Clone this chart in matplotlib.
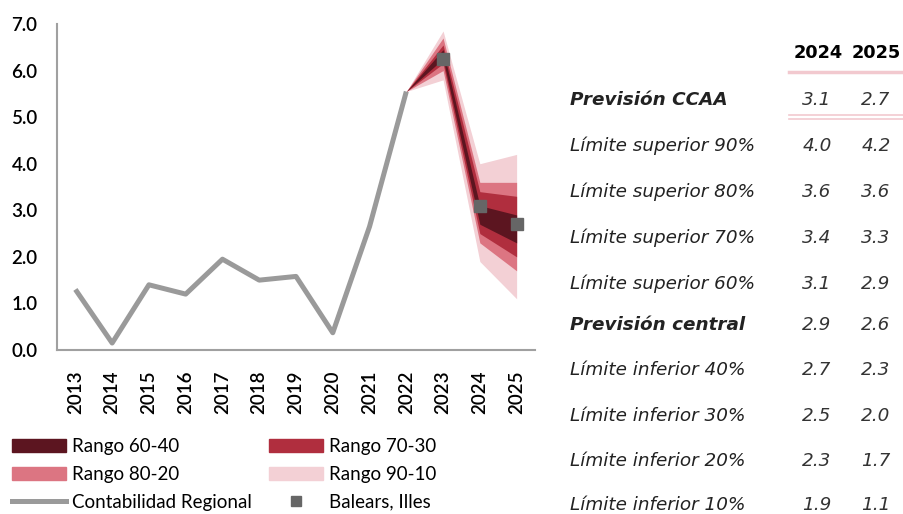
import matplotlib.pyplot as plt
from matplotlib.patches import Patch
from matplotlib.lines import Line2D

# historical series (Contabilidad Regional)
years = [2013, 2014, 2015, 2016, 2017, 2018, 2019, 2020, 2021, 2022, 2023, 2024, 2025]
hist = [1.3, 0.15, 1.4, 1.2, 1.95, 1.5, 1.58, 0.37, 2.65, 5.55]

# fan chart percentiles, years 2022-2025
fan_years = [2022, 2023, 2024, 2025]
p90 = [5.55, 6.85, 4.0, 4.2]
p80 = [5.55, 6.70, 3.6, 3.6]
p70 = [5.55, 6.55, 3.4, 3.3]
p60 = [5.55, 6.45, 3.1, 2.9]
central = [5.55, 6.35, 2.9, 2.6]
p40 = [5.55, 6.25, 2.7, 2.3]
p30 = [5.55, 6.15, 2.5, 2.0]
p20 = [5.55, 6.00, 2.3, 1.7]
p10 = [5.55, 5.80, 1.9, 1.1]

# regional forecast (Balears, Illes)
ccaa_years = [2023, 2024, 2025]
ccaa = [6.25, 3.1, 2.7]

c_6040 = '#5c1520'
c_7030 = '#b02e3e'
c_8020 = '#dc7582'
c_9010 = '#f3d0d5'
grey = '#9a9a9a'

W, H = 904, 514
fig = plt.figure(figsize=(W / 100, H / 100), dpi=100)
ax = fig.add_axes([57 / W, 1 - 350 / H, (535 - 57) / W, (350 - 24) / H])

pos = {y: i for i, y in enumerate(years)}
fx = [pos[y] for y in fan_years]

ax.fill_between(fx, p10, p90, color=c_9010, lw=0, zorder=1)
ax.fill_between(fx, p20, p80, color=c_8020, lw=0, zorder=2)
ax.fill_between(fx, p30, p70, color=c_7030, lw=0, zorder=3)
ax.fill_between(fx, p40, p60, color=c_6040, lw=0, zorder=4)

ax.plot(range(len(hist)), hist, color=grey, lw=3.6, solid_capstyle='butt', zorder=5)
ax.plot([pos[y] for y in ccaa_years], ccaa, ls='none', marker='s', ms=8,
        color='#666666', zorder=6)

ax.set_xlim(-0.5, len(years) - 0.5)
ax.set_ylim(0, 7)
ax.set_yticks(range(8))
ax.set_yticklabels(['%.1f' % v for v in range(8)])
ax.set_xticks(range(len(years)))
ax.set_xticklabels([str(y) for y in years], rotation=90)
ax.tick_params(length=0, labelsize=13.5)
ax.tick_params(axis='y', pad=14)
ax.tick_params(axis='x', pad=15)
for lab in ax.get_xticklabels() + ax.get_yticklabels():
    lab.set_fontfamily('Lato')
    lab.set_fontweight('semibold')

for s in ['top', 'right']:
    ax.spines[s].set_visible(False)
for s in ['left', 'bottom']:
    ax.spines[s].set_color('#a0a0a0')
    ax.spines[s].set_linewidth(1.5)

col1 = [
    Patch(color=c_6040, label='Rango 60-40'),
    Patch(color=c_8020, label='Rango 80-20'),
    Line2D([], [], color=grey, lw=3.6, label='Contabilidad Regional'),
]
col2 = [
    Patch(color=c_7030, label='Rango 70-30'),
    Patch(color=c_9010, label='Rango 90-10'),
    Line2D([], [], ls='none', marker='s', ms=7, color='#666666', label='Balears, Illes'),
]
leg_kw = dict(loc='upper left', frameon=False, prop={'family': 'Lato', 'size': 13.5},
              handlelength=2.9, handleheight=0.7, handletextpad=0.3,
              labelspacing=0.58, borderaxespad=0, borderpad=0)
fig.legend(handles=col1, bbox_to_anchor=(12 / W, 1 - 438 / H), **leg_kw)
fig.legend(handles=col2, bbox_to_anchor=(269 / W, 1 - 438 / H), **leg_kw)

# table on the right
def fx_(x):
    return x / W

def fy_(y):
    return 1 - y / H

tfont = 'DejaVu Sans'
fig.text(fx_(818), fy_(53), '2024', ha='center', va='center', fontsize=12.8,
         fontweight='bold', family='DejaVu Sans')
fig.text(fx_(876), fy_(53), '2025', ha='center', va='center', fontsize=12.8,
         fontweight='bold', family='DejaVu Sans')

rows = [
    ('Previsión CCAA', ccaa[1], ccaa[2], True),
    ('Límite superior 90%', p90[2], p90[3], False),
    ('Límite superior 80%', p80[2], p80[3], False),
    ('Límite superior 70%', p70[2], p70[3], False),
    ('Límite superior 60%', p60[2], p60[3], False),
    ('Previsión central', central[2], central[3], True),
    ('Límite inferior 40%', p40[2], p40[3], False),
    ('Límite inferior 30%', p30[2], p30[3], False),
    ('Límite inferior 20%', p20[2], p20[3], False),
    ('Límite inferior 10%', p10[2], p10[3], False),
]
row_y = [100, 146, 192, 238, 284, 325, 370, 416, 461, 505]
for (lab, v24, v25, bold), y in zip(rows, row_y):
    fig.text(fx_(570), fy_(y), lab, ha='left', va='center', fontsize=13.2,
             style='italic', fontweight='bold' if bold else 'normal',
             family=tfont, color='#222222')
    fig.text(fx_(817), fy_(y), '%.1f' % v24, ha='center', va='center', fontsize=13.2,
             style='italic', family=tfont, color='#333333')
    fig.text(fx_(876), fy_(y), '%.1f' % v25, ha='center', va='center', fontsize=13.2,
             style='italic', family=tfont, color='#333333')

pink = '#f2c9cf'
fig.add_artist(Line2D([fx_(789), fx_(904)], [fy_(72), fy_(72)], color=pink, lw=2.5))
fig.add_artist(Line2D([fx_(789), fx_(904)], [fy_(115), fy_(115)], color=pink, lw=1.2))
fig.add_artist(Line2D([fx_(789), fx_(904)], [fy_(119), fy_(119)], color=pink, lw=1.2))

fig.savefig('out.png', dpi=100)
